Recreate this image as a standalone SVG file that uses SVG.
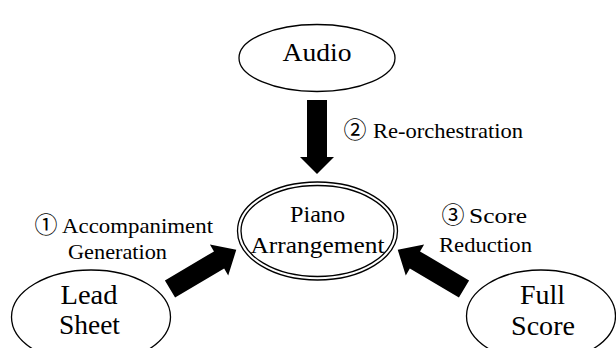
<svg xmlns="http://www.w3.org/2000/svg" width="616" height="348" viewBox="0 0 616 348">
  <style>
    .node { fill: #ffffff; stroke: #000000; stroke-width: 1.3; }
    .ring { fill: none; stroke: #000000; stroke-width: 1.3; }
    .arrow { fill: #000000; stroke: none; }
    text { fill: #000000; }
    .t { font-family: "Liberation Serif", "Times New Roman", serif; }
    .circ { font-family: "Noto Sans CJK JP", "DejaVu Sans", sans-serif; font-size: 23px; }
  </style>
  <rect width="616" height="348" fill="#ffffff"/>

  <g id="connectors">
    <path class="arrow" transform="translate(317,100) rotate(90)" d="M0,-10 H57 V-17 L74,0 L57,17 V10 H0 Z"/>
    <path class="arrow" transform="translate(170,289) rotate(-30.6)" d="M0,-10 H57 V-18 L77,0 L57,18 V10 H0 Z"/>
    <path class="arrow" transform="translate(464,289) rotate(-149.4)" d="M0,-10 H57 V-18 L77,0 L57,18 V10 H0 Z"/>
  </g>

  <g id="node-audio">
    <ellipse class="node" cx="317" cy="58" rx="78" ry="33.5"/>
    <text class="t" font-size="25" x="317" y="61" text-anchor="middle" textLength="69" lengthAdjust="spacingAndGlyphs">Audio</text>
  </g>

  <g id="node-piano">
    <ellipse class="node" cx="317.5" cy="231" rx="80" ry="49"/>
    <ellipse class="ring" cx="317.5" cy="231" rx="76.5" ry="45.5"/>
    <text class="t" font-size="23" x="317.5" y="221.5" text-anchor="middle" textLength="55" lengthAdjust="spacingAndGlyphs">Piano</text>
    <text class="t" font-size="23" x="317.5" y="252.5" text-anchor="middle" textLength="134" lengthAdjust="spacingAndGlyphs">Arrangement</text>
  </g>

  <g id="node-lead">
    <ellipse class="node" cx="91" cy="317" rx="79.5" ry="47"/>
    <text class="t" font-size="27" x="89" y="304" text-anchor="middle" textLength="57" lengthAdjust="spacingAndGlyphs">Lead</text>
    <text class="t" font-size="27" x="89.5" y="334" text-anchor="middle" textLength="61" lengthAdjust="spacingAndGlyphs">Sheet</text>
  </g>

  <g id="node-full">
    <ellipse class="node" cx="541" cy="316" rx="74.5" ry="46"/>
    <text class="t" font-size="27" x="542.5" y="304" text-anchor="middle" textLength="45" lengthAdjust="spacingAndGlyphs">Full</text>
    <text class="t" font-size="27" x="543" y="335" text-anchor="middle" textLength="64" lengthAdjust="spacingAndGlyphs">Score</text>
  </g>

  <g id="labels">
    <text class="circ" x="355" y="138" text-anchor="middle">②</text>
    <text class="t" font-size="21" x="373" y="138" textLength="150" lengthAdjust="spacingAndGlyphs">Re-orchestration</text>

    <text class="circ" x="46" y="233" text-anchor="middle">①</text>
    <text class="t" font-size="21" x="62" y="233" textLength="151" lengthAdjust="spacingAndGlyphs">Accompaniment</text>
    <text class="t" font-size="21" x="68" y="259" textLength="99" lengthAdjust="spacingAndGlyphs">Generation</text>

    <text class="circ" x="453" y="223" text-anchor="middle">③</text>
    <text class="t" font-size="21" x="469" y="223" textLength="58" lengthAdjust="spacingAndGlyphs">Score</text>
    <text class="t" font-size="21" x="439" y="252" textLength="93" lengthAdjust="spacingAndGlyphs">Reduction</text>
  </g>
</svg>
